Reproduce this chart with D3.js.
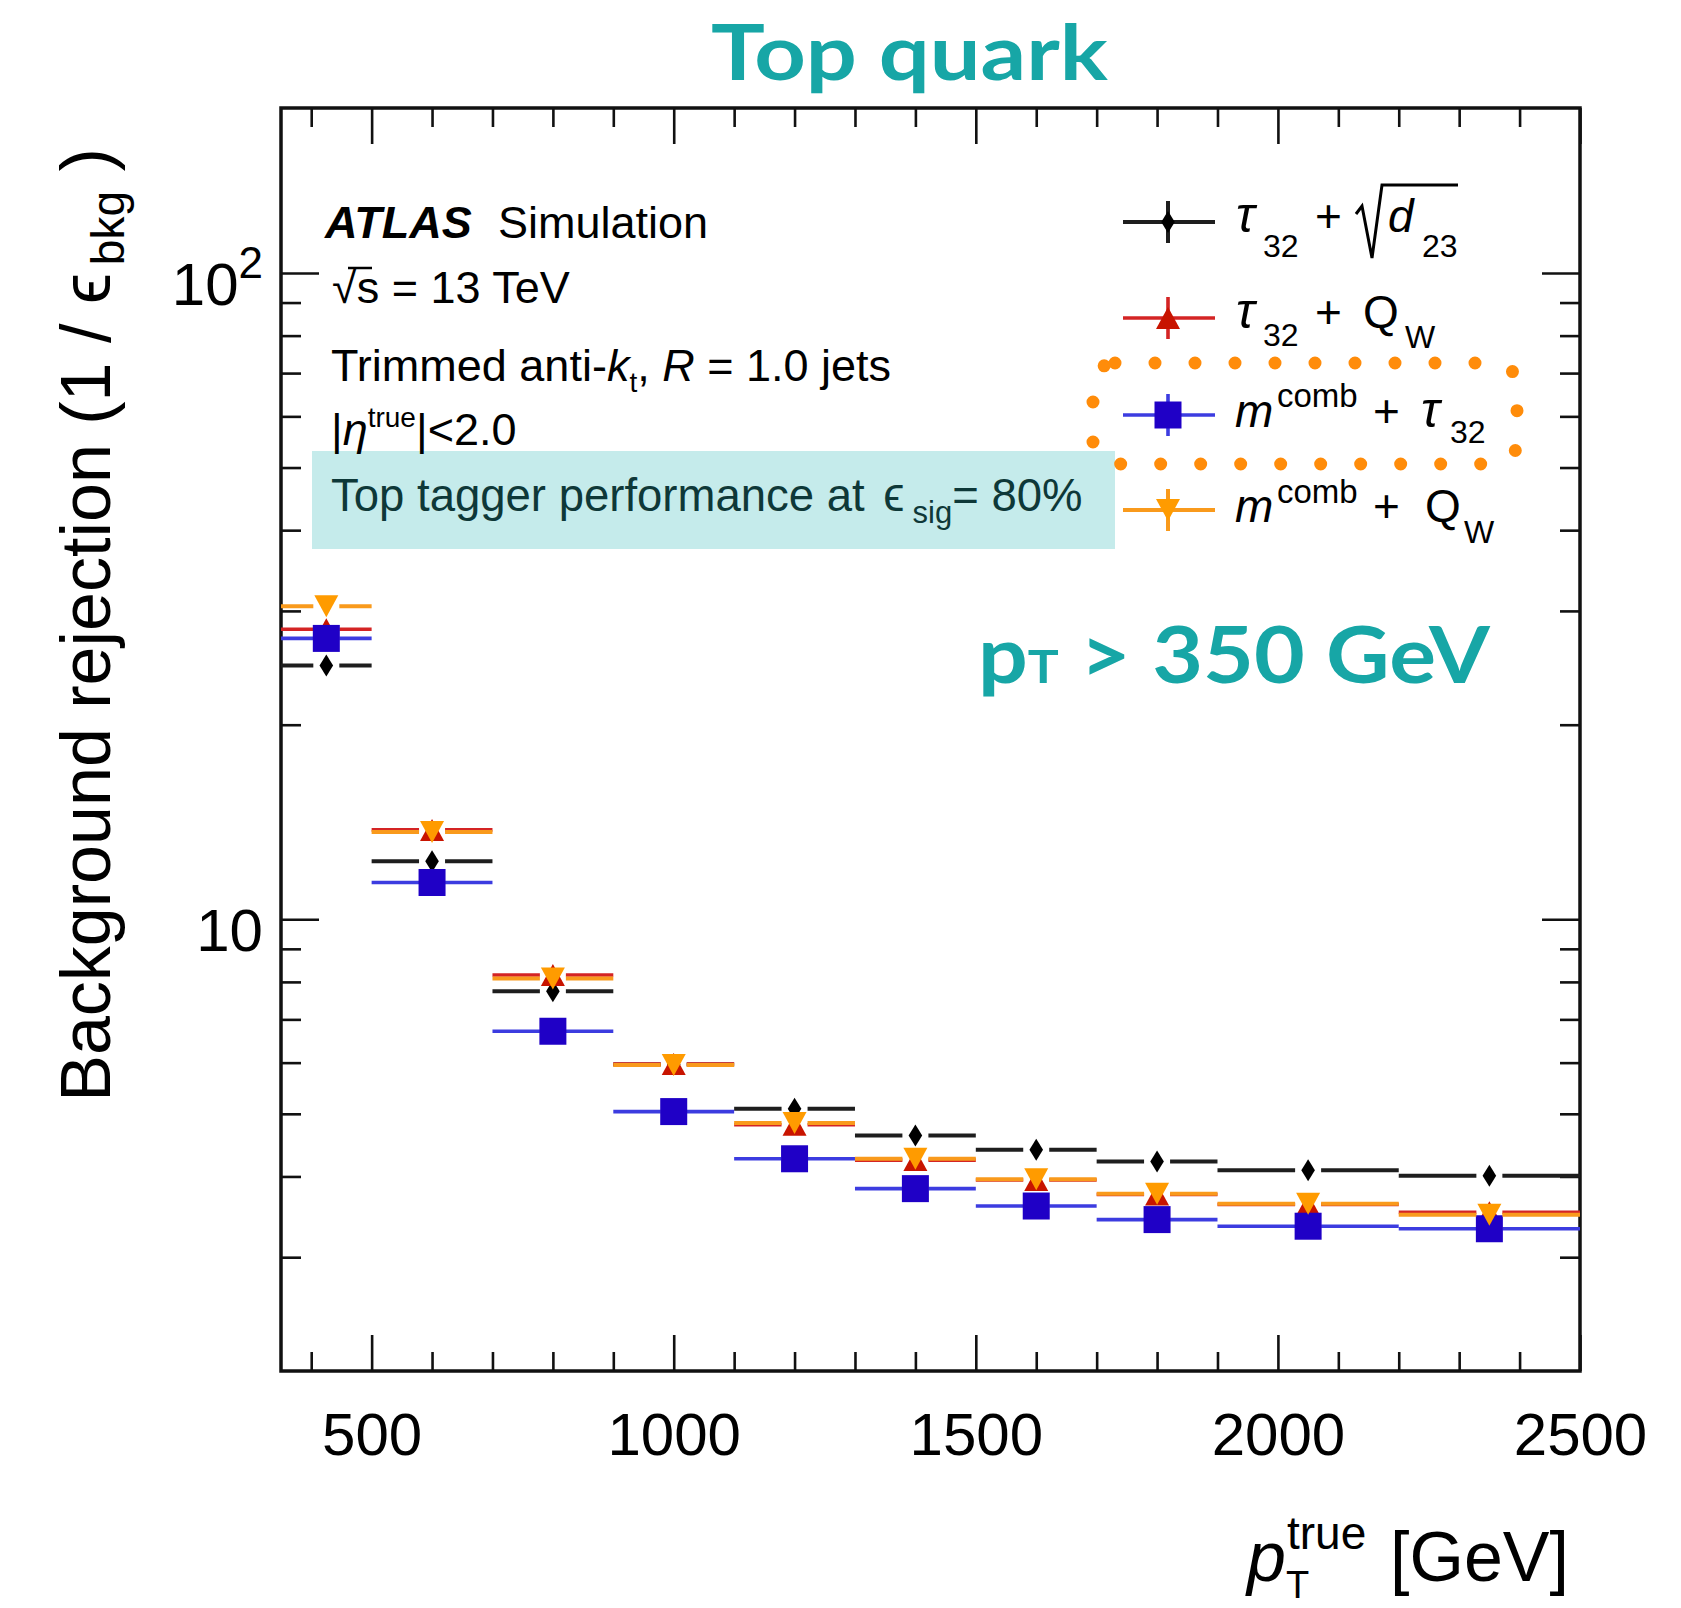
<!DOCTYPE html>
<html><head><meta charset="utf-8">
<script src="https://cdn.jsdelivr.net/npm/d3@7/dist/d3.min.js"></script>
<style>body{margin:0;background:#fff}</style>
</head><body>
<svg id="c" width="1681" height="1608" xmlns="http://www.w3.org/2000/svg"></svg>
<script>
// ---------------- DATA ----------------
const binEdges = [350, 500, 700, 900, 1100, 1300, 1500, 1700, 1900, 2200, 2500];
const tau32SqrtD23 = [24.7, 12.3, 7.74, 5.96, 5.09, 4.63, 4.40, 4.22, 4.09, 4.01];
const tau32QW      = [28.1, 13.75, 8.2, 5.97, 4.81, 4.24, 3.95, 3.75, 3.62, 3.52];
const mcombTau32   = [27.2, 11.4, 6.71, 5.04, 4.26, 3.83, 3.60, 3.43, 3.35, 3.32];
const mcombQW      = [30.5, 13.65, 8.1, 5.95, 4.84, 4.26, 3.96, 3.76, 3.63, 3.49];
const xMajorTicks = [500, 1000, 1500, 2000, 2500];
const xMinorTicks = [400, 600, 700, 800, 900, 1100, 1200, 1300, 1400, 1600, 1700, 1800, 1900, 2100, 2200, 2300, 2400];
const yMajorTicks = [10, 100];
const yMinorTicks = [3, 4, 5, 6, 7, 8, 9, 20, 30, 40, 50, 60, 70, 80, 90];

// ---------------- SETUP ----------------
const FONT = "'Liberation Sans', Arial, Helvetica, sans-serif";
const TEAL = "#17a6a6";
const svg = d3.select("#c");
const m = {l: 281, r: 1580, t: 108, b: 1371};
const x = d3.scaleLinear().domain([350, 2500]).range([m.l, m.r]);
const y = d3.scaleLog().domain([2, 180]).range([m.b, m.t]);

const series = [
  {vals: tau32SqrtD23, line: "#1e1e1e", mark: "#000000", lw: 4,   shape: "diamond"},
  {vals: tau32QW,      line: "#d42424", mark: "#c81400", lw: 3.6, shape: "triUp"},
  {vals: mcombTau32,   line: "#3c3ce0", mark: "#1f00c6", lw: 3.6, shape: "square"},
  {vals: mcombQW,      line: "#f99a1c", mark: "#ff9b00", lw: 4,   shape: "triDown"}
];
function shapePath(s) {
  if (s === "diamond") return "M0,-11L6.8,0L0,11L-6.8,0Z";
  if (s === "square") return "M-13.5,-13.5H13.5V13.5H-13.5Z";
  if (s === "triUp") return "M0,-11L12,11L-12,11Z";
  return "M0,11L12,-11L-12,-11Z";
}

// ---------------- AXES ----------------
function styleAxis(g) {
  g.select(".domain").remove();
  g.selectAll(".tick line").attr("stroke", "#111").attr("stroke-width", 2.6);
  g.attr("font-family", FONT).attr("font-size", 60);
  g.selectAll(".tick text").attr("fill", "#000");
}
svg.append("g").attr("transform", `translate(0,${m.b})`)
  .call(d3.axisBottom(x).tickValues(xMajorTicks).tickSize(-36).tickPadding(41).tickFormat(d3.format("d"))).call(styleAxis);
svg.append("g").attr("transform", `translate(0,${m.b})`)
  .call(d3.axisBottom(x).tickValues(xMinorTicks).tickSize(-19).tickFormat("")).call(styleAxis);
svg.append("g").attr("transform", `translate(0,${m.t})`)
  .call(d3.axisTop(x).tickValues(xMajorTicks).tickSize(-36).tickFormat("")).call(styleAxis);
svg.append("g").attr("transform", `translate(0,${m.t})`)
  .call(d3.axisTop(x).tickValues(xMinorTicks).tickSize(-19).tickFormat("")).call(styleAxis);

const yl = svg.append("g").attr("transform", `translate(${m.l},0)`)
  .call(d3.axisLeft(y).tickValues(yMajorTicks).tickSize(-38).tickPadding(18).tickFormat(() => "10")).call(styleAxis);
yl.selectAll(".tick text").attr("dy", "0.52em");
yl.selectAll(".tick text").filter(d => d === 100)
  .append("tspan").attr("font-size", 44).attr("dy", -27).text("2");
svg.append("g").attr("transform", `translate(${m.l},0)`)
  .call(d3.axisLeft(y).tickValues(yMinorTicks).tickSize(-20).tickFormat("")).call(styleAxis);
svg.append("g").attr("transform", `translate(${m.r},0)`)
  .call(d3.axisRight(y).tickValues(yMajorTicks).tickSize(-38).tickFormat("")).call(styleAxis);
svg.append("g").attr("transform", `translate(${m.r},0)`)
  .call(d3.axisRight(y).tickValues(yMinorTicks).tickSize(-20).tickFormat("")).call(styleAxis);

svg.append("rect").attr("x", m.l).attr("y", m.t).attr("width", m.r - m.l).attr("height", m.b - m.t)
  .attr("fill", "none").attr("stroke", "#111").attr("stroke-width", 3.5);

// ---------------- DATA MARKS ----------------
const gap = 13;
series.forEach(s => {
  const g = svg.append("g");
  const bins = s.vals.map((v, i) => ({v, lo: binEdges[i], hi: binEdges[i + 1], c: (binEdges[i] + binEdges[i + 1]) / 2}));
  g.selectAll("line.l").data(bins).join("line")
    .attr("x1", d => x(d.lo)).attr("x2", d => x(d.c) - gap)
    .attr("y1", d => y(d.v)).attr("y2", d => y(d.v))
    .attr("stroke", s.line).attr("stroke-width", s.lw);
  g.selectAll("line.r").data(bins).join("line")
    .attr("x1", d => x(d.c) + gap).attr("x2", d => x(d.hi))
    .attr("y1", d => y(d.v)).attr("y2", d => y(d.v))
    .attr("stroke", s.line).attr("stroke-width", s.lw);
  g.selectAll("path").data(bins).join("path")
    .attr("transform", d => `translate(${x(d.c)},${y(d.v)})`)
    .attr("d", shapePath(s.shape)).attr("fill", s.mark);
});

// ---------------- TEXT BLOCK ----------------
svg.append("rect").attr("x", 312).attr("y", 451).attr("width", 803).attr("height", 98).attr("fill", "#c5ebeb");

function txt(xp, yp, size, opts = {}) {
  return svg.append("text").attr("x", xp).attr("y", yp).attr("font-family", opts.family || FONT)
    .attr("font-size", size).attr("fill", opts.fill || "#000");
}
let t;
t = txt(325, 238, 45);
t.append("tspan").attr("font-weight", "bold").attr("font-style", "italic").text("ATLAS");
t.append("tspan").attr("x", 498).text("Simulation");

t = txt(332, 303, 45);
t.append("tspan").text("√s = 13 TeV");
svg.append("line").attr("x1", 348).attr("x2", 372).attr("y1", 268).attr("y2", 268).attr("stroke", "#000").attr("stroke-width", 2.5);

t = txt(331, 381, 45);
t.append("tspan").text("Trimmed anti-");
t.append("tspan").attr("font-style", "italic").text("k");
t.append("tspan").attr("font-size", 28).attr("dy", 11).text("t");
t.append("tspan").attr("dy", -11).text(", ");
t.append("tspan").attr("font-style", "italic").text("R");
t.append("tspan").text(" = 1.0 jets");

t = txt(331, 445, 45);
t.append("tspan").text("|");
t.append("tspan").attr("font-style", "italic").text("η");
t.append("tspan").attr("font-size", 28).attr("dy", -18).text("true");
t.append("tspan").attr("dy", 18).text("|<2.0");

t = txt(331, 511, 45.5, {fill: "#0e3838"});
t.append("tspan").text("Top tagger performance at ");
t.append("tspan").attr("dx", 6).attr("font-size", 48).text("ϵ");
t.append("tspan").attr("font-size", 31).attr("dx", 8).attr("dy", 12).text("sig");
t.append("tspan").attr("dy", -12).text("= 80%");

// ---------------- LEGEND ----------------
const legRows = [222, 318, 415, 510];
series.forEach((s, i) => {
  const yy = legRows[i];
  svg.append("line").attr("x1", 1123).attr("x2", 1215).attr("y1", yy).attr("y2", yy).attr("stroke", s.line).attr("stroke-width", s.lw);
  svg.append("line").attr("x1", 1168).attr("x2", 1168).attr("y1", yy - 21).attr("y2", yy + 21).attr("stroke", s.line).attr("stroke-width", s.lw);
  svg.append("path").attr("transform", `translate(1168,${yy})`).attr("d", shapePath(s.shape)).attr("fill", s.mark);
});
// row 1
txt(1236, 232, 50).attr("font-style", "italic").text("τ");
txt(1263, 257, 32).text("32");
txt(1315, 232, 46).text("+");
svg.append("path").attr("d", "M1356,214L1362,206L1372,258L1382,185H1458").attr("fill", "none").attr("stroke", "#000").attr("stroke-width", 3);
txt(1388, 232, 46).attr("font-style", "italic").text("d");
txt(1422, 257, 32).text("23");
// row 2
txt(1236, 328, 50).attr("font-style", "italic").text("τ");
txt(1263, 346, 32).text("32");
txt(1315, 328, 46).text("+");
txt(1363, 328, 46).text("Q");
txt(1405, 348, 32).text("W");
// row 3
txt(1235, 427, 46).attr("font-style", "italic").text("m");
txt(1277, 407, 33).text("comb");
txt(1373, 427, 46).text("+");
txt(1421, 427, 50).attr("font-style", "italic").text("τ");
txt(1450, 443, 32).text("32");
// row 4
txt(1235, 522, 46).attr("font-style", "italic").text("m");
txt(1277, 503, 33).text("comb");
txt(1373, 522, 46).text("+");
txt(1425, 522, 46).text("Q");
txt(1464, 543, 32).text("W");

// dotted highlight
svg.append("rect").attr("x", 1093).attr("y", 363).attr("width", 424).attr("height", 101).attr("rx", 22)
  .attr("fill", "none").attr("stroke", "#ff8c0a").attr("stroke-width", 13)
  .attr("stroke-linecap", "round").attr("stroke-dasharray", "0 40");

// ---------------- AXIS TITLES ----------------
t = svg.append("text").attr("transform", "translate(110,625) rotate(-90)").attr("text-anchor", "middle")
  .attr("font-family", FONT).attr("font-size", 70);
t.append("tspan").text("Background rejection (1 / ");
t.append("tspan").text("ϵ");
t.append("tspan").attr("font-size", 46).attr("dx", 8).attr("dy", 14).text("bkg");
t.append("tspan").attr("dy", -14).text(" )");

txt(1247, 1581, 70).attr("font-style", "italic").text("p");
txt(1287, 1549, 46).text("true");
txt(1286, 1598, 38).text("T");
txt(1390, 1581, 70).text("[GeV]");

// ---------------- TEAL TITLES ----------------
function fitWidth(sel, x0, target) {
  const w = sel.node().getComputedTextLength();
  sel.attr("transform", `translate(${x0},0) scale(${target / w},1) translate(${-x0},0)`);
}
const title = svg.append("text").attr("x", 711).attr("y", 80)
  .attr("font-family", "Lato, 'Open Sans', sans-serif")
  .attr("font-weight", 700).attr("font-size", 76).attr("fill", TEAL).text("Top quark");
fitWidth(title, 711, 397);
const pt = svg.append("text").attr("x", 978).attr("y", 683).attr("font-family", "Lato, 'Open Sans', sans-serif")
  .attr("font-weight", 700).attr("font-size", 78).attr("fill", TEAL);
pt.append("tspan").text("p");
pt.append("tspan").attr("font-size", 46).text("T");
pt.append("tspan").text(" > 350 GeV");
fitWidth(pt, 978, 512);
</script>
</body></html>
